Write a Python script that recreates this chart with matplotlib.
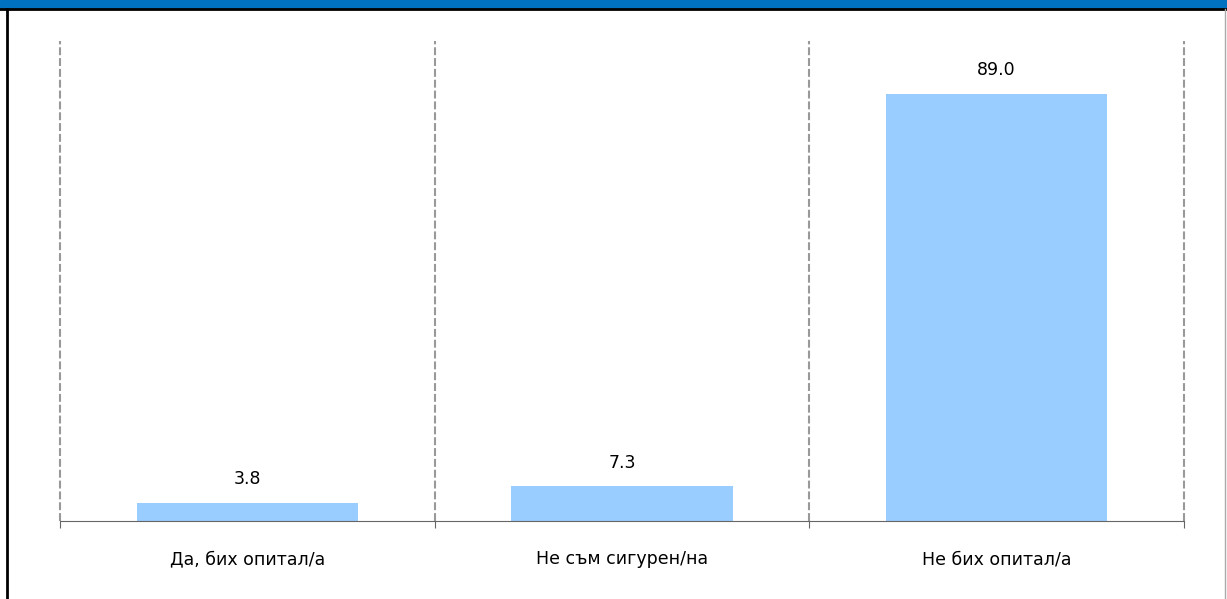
import matplotlib.pyplot as plt
from matplotlib.patches import Rectangle
from matplotlib.lines import Line2D

categories = ['Да, бих опитал/а', 'Не съм сигурен/на', 'Не бих опитал/а']
values = [3.8, 7.3, 89.0]

W, H = 1227, 599
fig = plt.figure(figsize=(W / 100, H / 100), dpi=100)

# frame: blue band on top, black rule under it, black left edge
fig.patches.append(Rectangle((0, 1 - 8 / H), 1, 8 / H, transform=fig.transFigure,
                             color='#0070C0', zorder=0))
fig.lines.append(Line2D([0, 1], [1 - 9 / H, 1 - 9 / H], transform=fig.transFigure,
                        color='black', lw=2))
fig.lines.append(Line2D([7 / W, 7 / W], [0, 1 - 9 / H], transform=fig.transFigure,
                        color='black', lw=2))
fig.lines.append(Line2D([1225 / W, 1225 / W], [0, 1 - 9 / H], transform=fig.transFigure,
                        color='#aaaaaa', lw=1))

ax = fig.add_axes([60 / W, 78 / H, 1124 / W, 480 / H])
x = list(range(len(categories)))
bars = ax.bar(x, values, width=0.59, color='#99CCFF', zorder=2)
for b, v in zip(bars, values):
    ax.text(b.get_x() + b.get_width() / 2, v + 3, f'{v:.1f}', ha='center', va='bottom',
            fontsize=12.5, color='black')

ax.set_xlim(-0.5, len(categories) - 0.5)
ax.set_ylim(0, 100)
for b in [i - 0.5 for i in range(len(categories) + 1)]:
    ax.axvline(b, color='#999999', lw=1.5, ls=(0, (3.8, 1.4)), zorder=1, clip_on=False)

for s in ['top', 'right', 'left']:
    ax.spines[s].set_visible(False)
ax.spines['bottom'].set_color('#666666')
ax.set_yticks([])
ax.set_xticks([i - 0.5 for i in range(len(categories) + 1)], minor=False)
ax.set_xticklabels([])
ax.tick_params(axis='x', length=5, color='#666666', direction='out')
ax.set_xticks(x, minor=True)
ax.set_xticklabels(categories, minor=True, fontsize=12.5)
ax.tick_params(axis='x', which='minor', length=0, pad=21)

fig.savefig('out.png', dpi=100)
